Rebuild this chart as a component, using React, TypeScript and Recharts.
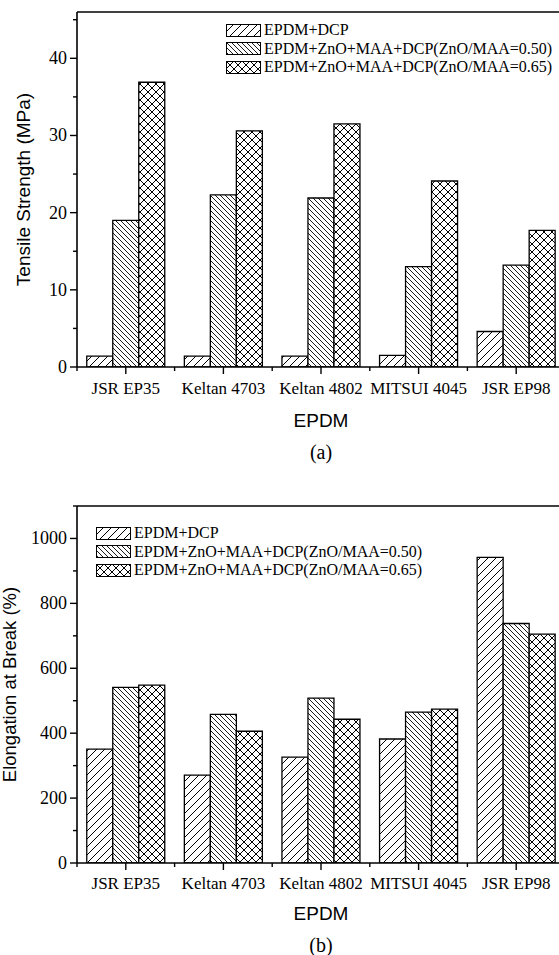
import React from 'react';
import { BarChart, Bar, XAxis, YAxis, Legend, ReferenceLine } from 'recharts';

const categories = ['JSR EP35', 'Keltan 4703', 'Keltan 4802', 'MITSUI 4045', 'JSR EP98'];
const seriesNames = [
  'EPDM+DCP',
  'EPDM+ZnO+MAA+DCP(ZnO/MAA=0.50)',
  'EPDM+ZnO+MAA+DCP(ZnO/MAA=0.65)',
];

// (a) Tensile strength (MPa)
const tensileDCP = [1.4, 1.4, 1.4, 1.5, 4.6];
const tensile050 = [19.0, 22.3, 21.9, 13.0, 13.2];
const tensile065 = [36.9, 30.6, 31.5, 24.1, 17.7];
const tensileTicks = [0, 5, 10, 15, 20, 25, 30, 35, 40, 45];
const tensileMax = 46;

// (b) Elongation at break (%)
const elongDCP = [351, 271, 326, 382, 942];
const elong050 = [541, 458, 508, 465, 738];
const elong065 = [548, 406, 443, 474, 705];
const elongTicks = [0, 100, 200, 300, 400, 500, 600, 700, 800, 900, 1000, 1100];
const elongMax = 1100;

const tensileData = categories.map((c, i) => ({
  name: c, s0: tensileDCP[i], s1: tensile050[i], s2: tensile065[i],
}));
const elongData = categories.map((c, i) => ({
  name: c, s0: elongDCP[i], s1: elong050[i], s2: elong065[i],
}));

const CHART_W = 600;
const LEFT = 77;
const RIGHT = 35;
const BAND = (CHART_W - LEFT - RIGHT) / categories.length;
const SERIF = '"Liberation Serif", "Times New Roman", serif';
const SANS = '"Liberation Sans", Arial, sans-serif';

const Patterns = ({ prefix }: { prefix: string }) => (
  <defs>
    <pattern id={`${prefix}0`} patternUnits="userSpaceOnUse" width={8} height={8}>
      <rect width={8} height={8} fill="#fff" />
      <path d="M-2,2 L2,-2 M0,8 L8,0 M6,10 L10,6" stroke="#000" strokeWidth={1} />
    </pattern>
    <pattern id={`${prefix}1`} patternUnits="userSpaceOnUse" width={5} height={5}>
      <rect width={5} height={5} fill="#fff" />
      <path d="M-1,-1 L6,6 M-1,4 L1,6 M4,-1 L6,1" stroke="#000" strokeWidth={0.9} />
    </pattern>
    <pattern id={`${prefix}2`} patternUnits="userSpaceOnUse" width={8} height={8}>
      <rect width={8} height={8} fill="#fff" />
      <path d="M-2,2 L2,-2 M0,8 L8,0 M6,10 L10,6 M-1,-1 L9,9 M-2,6 L2,10 M6,-2 L10,2" stroke="#000" strokeWidth={1} />
    </pattern>
  </defs>
);

const makeYTick = (majorStep: number) => (props: any) => {
  const { x, y, payload } = props;
  const v = payload.value;
  const major = Math.abs(v % majorStep) < 1e-9;
  return (
    <g>
      <line x1={x - (major ? 7 : 4)} x2={x} y1={y} y2={y} stroke="#000" strokeWidth={1.4} />
      {major && (
        <text x={x - 10} y={y} textAnchor="end" dominantBaseline="central" fontFamily={SERIF} fontSize={18} fill="#000">
          {v}
        </text>
      )}
    </g>
  );
};

const makeXTick = (labelDy: number) => (props: any) => {
  const { x, y, payload } = props;
  return (
    <g>
      <line x1={x} x2={x} y1={y} y2={y + 7} stroke="#000" strokeWidth={1.4} />
      <line x1={x - BAND / 2} x2={x - BAND / 2} y1={y} y2={y + 4} stroke="#000" strokeWidth={1.4} />
      <text x={x} y={y + labelDy} textAnchor="middle" dominantBaseline="central" fontFamily={SERIF} fontSize={17} fill="#000">
        {payload.value}
      </text>
    </g>
  );
};

const makeXLabel = (titleDy: number, tagDy: number, tag: string) => (props: any) => {
  const vb = props.viewBox || {};
  const cx = (vb.x ?? LEFT) + (vb.width ?? CHART_W - LEFT - RIGHT) / 2;
  const y0 = vb.y ?? 0;
  return (
    <g>
      <text x={cx} y={y0 + titleDy} textAnchor="middle" dominantBaseline="central" fontFamily={SANS} fontSize={19} fill="#000">
        EPDM
      </text>
      <text x={cx} y={y0 + tagDy} textAnchor="middle" dominantBaseline="central" fontFamily={SERIF} fontSize={20} fill="#000">
        {tag}
      </text>
    </g>
  );
};

const makeYLabel = (text: string, baseX: number, size: number) => (props: any) => {
  const vb = props.viewBox || {};
  const cy = (vb.y ?? 0) + (vb.height ?? 0) / 2;
  return (
    <text transform={`translate(${baseX},${cy}) rotate(-90)`} textAnchor="middle" fontFamily={SANS} fontSize={size} fill="#000">
      {text}
    </text>
  );
};

const makeLegend = (prefix: string) => () => (
  <div style={{ fontFamily: SERIF, fontSize: 16, color: '#000' }}>
    {seriesNames.map((n, i) => (
      <div key={n} style={{ display: 'flex', alignItems: 'center', height: 18.5 }}>
        <svg width={35} height={13} style={{ display: 'block' }}>
          <rect x={0.5} y={0.5} width={34} height={12} fill={`url(#${prefix}${i})`} stroke="#000" strokeWidth={1} />
        </svg>
        <span style={{ marginLeft: 3, whiteSpace: 'nowrap', lineHeight: '18px' }}>{n}</span>
      </div>
    ))}
  </div>
);

const Panel = ({
  data, ticks, domain, majorStep, yLabel, yLabelX, yLabelSize, prefix, height, top, xAxisH, labelDy, titleDy, tagDy, tag, legendPos,
}: any) => (
  <BarChart
    width={CHART_W}
    height={height}
    data={data}
    margin={{ top, right: RIGHT, bottom: 0, left: 0 }}
    barCategoryGap="10%"
    barGap={0}
  >
    <Patterns prefix={prefix} />
    <XAxis
      dataKey="name"
      height={xAxisH}
      tickSize={0}
      tickMargin={0}
      interval={0}
      tick={makeXTick(labelDy)}
      axisLine={{ stroke: '#000', strokeWidth: 1.6 }}
      tickLine={false}
      label={{ content: makeXLabel(titleDy, tagDy, tag) }}
    />
    <YAxis
      width={LEFT}
      domain={domain}
      ticks={ticks}
      interval={0}
      tickSize={0}
      tickMargin={0}
      tick={makeYTick(majorStep)}
      tickLine={false}
      axisLine={{ stroke: '#000', strokeWidth: 1.6 }}
      allowDataOverflow
      label={{ content: makeYLabel(yLabel, yLabelX, yLabelSize) }}
    />
    <ReferenceLine y={domain[1]} stroke="#000" strokeWidth={1.6} ifOverflow="extendDomain" />
    <Legend
      layout="vertical"
      align="center"
      verticalAlign="middle"
      content={makeLegend(prefix)}
      wrapperStyle={{ left: legendPos.left, top: legendPos.top, width: 'auto', height: 'auto' }}
    />
    {[0, 1, 2].map((i) => (
      <Bar
        key={i}
        dataKey={`s${i}`}
        name={seriesNames[i]}
        fill={`url(#${prefix}${i})`}
        stroke="#000"
        strokeWidth={1.3}
        isAnimationActive={false}
      />
    ))}
  </BarChart>
);

export default function App() {
  return (
    <div style={{ position: 'absolute', left: 0, top: 0, width: 559, height: 955, overflow: 'hidden', background: '#fff' }}>
      <div style={{ position: 'absolute', left: 0, top: 0 }}>
        <Panel
          data={tensileData}
          ticks={tensileTicks}
          domain={[0, tensileMax]}
          majorStep={10}
          yLabel="Tensile Strength (MPa)"
          yLabelX={30}
          yLabelSize={19}
          prefix="pa"
          height={470}
          top={12}
          xAxisH={103}
          labelDy={21}
          titleDy={53}
          tagDy={85}
          tag="(a)"
          legendPos={{ left: 226, top: 21 }}
        />
      </div>
      <div style={{ position: 'absolute', left: 0, top: 470 }}>
        <Panel
          data={elongData}
          ticks={elongTicks}
          domain={[0, elongMax]}
          majorStep={200}
          yLabel="Elongation at Break (%)"
          yLabelX={16}
          yLabelSize={18.5}
          prefix="pb"
          height={485}
          top={36}
          xAxisH={92}
          labelDy={20}
          titleDy={50}
          tagDy={82}
          tag="(b)"
          legendPos={{ left: 96, top: 54 }}
        />
      </div>
    </div>
  );
}
